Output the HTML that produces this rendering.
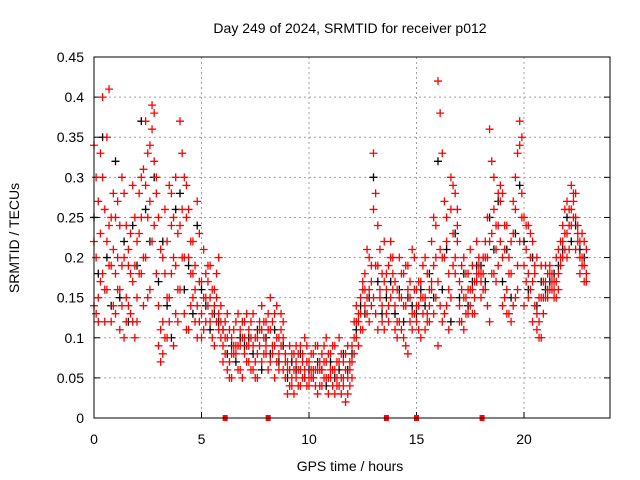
<!DOCTYPE html>
<html><head><meta charset="utf-8"><style>
body{margin:0;background:#fff}
svg{display:block;font-family:"Liberation Sans",sans-serif}
</style></head><body>
<svg id="chart" width="640" height="480" viewBox="0 0 640 480" xmlns="http://www.w3.org/2000/svg">
<rect width="640" height="480" fill="#fff"/>
<g id="grid"></g>
<g id="marks"></g>
<rect x="94" y="57" width="516" height="361" fill="none" stroke="#000" stroke-width="1"/>
<g id="ticks" font-size="14"></g>
<text x="350" y="33" font-size="14" text-anchor="middle">Day 249 of 2024, SRMTID for receiver p012</text>
<text x="350" y="471" font-size="14" text-anchor="middle">GPS time / hours</text>
<text transform="translate(19,238) rotate(-90)" font-size="14" text-anchor="middle">SRMTID / TECUs</text>
</svg>
<script>
const xTicks=[0,5,10,15,20];
const xTickLabels=["0","5","10","15","20"];
const yTicks=[0,0.05,0.1,0.15,0.2,0.25,0.3,0.35,0.4,0.45];
const yTickLabels=["0","0.05","0.1","0.15","0.2","0.25","0.3","0.35","0.4","0.45"];
const times=[0.0,0.2,0.4,0.6,0.8,1.0,1.2,1.4,1.6,1.8,2.0,2.2,2.4,2.6,2.8,3.0,3.2,3.4,3.6,3.8,4.0,4.2,4.4,4.6,4.8,5.0,5.2,5.4,5.6,5.8,6.0,6.2,6.4,6.6,6.8,7.0,7.2,7.4,7.6,7.8,8.0,8.2,8.4,8.6,8.8,9.0,9.2,9.4,9.6,9.8,10.0,10.2,10.4,10.6,10.8,11.0,11.2,11.4,11.6,11.8,12.0,12.2,12.4,12.6,12.8,13.0,13.2,13.4,13.6,13.8,14.0,14.2,14.4,14.6,14.8,15.0,15.2,15.4,15.6,15.8,16.0,16.2,16.4,16.6,16.8,17.0,17.2,17.4,17.6,17.8,18.0,18.2,18.4,18.6,18.8,19.0,19.2,19.4,19.6,19.8,20.0,20.2,20.4,20.6,20.8,21.0,21.2,21.4,21.6,21.8,22.0,22.2,22.4,22.6,22.8];
const redA=[.34,.15,.40,.22,.12,.18,.24,.10,.21,.29,.22,.30,.37,.34,.38,.09,.20,.15,.24,.30,.37,.30,.20,.15,.27,.17,.15,.19,.14,.20,.11,.10,.08,.12,.06,.12,.09,.06,.10,.14,.08,.11,.13,.08,.10,.06,.04,.07,.09,.05,.05,.08,.06,.04,.07,.06,.09,.04,.07,.05,.09,.12,.15,.18,.20,.33,.24,.18,.13,.20,.14,.20,.10,.16,.13,.16,.15,.20,.12,.25,.42,.33,.25,.30,.20,.14,.20,.18,.16,.22,.17,.20,.36,.30,.24,.28,.16,.22,.30,.37,.25,.18,.22,.13,.10,.17,.19,.16,.21,.24,.27,.29,.25,.22,.19];
const redB=[.22,.12,.30,.16,.25,.13,.16,.20,.14,.17,.15,.25,.20,.27,.24,.14,.08,.22,.18,.13,.24,.13,.26,.18,.10,.13,.18,.12,.16,.11,.09,.13,.05,.09,.11,.08,.11,.09,.05,.07,.12,.07,.05,.10,.06,.03,.08,.05,.06,.10,.07,.05,.09,.06,.05,.08,.03,.07,.05,.09,.07,.10,.13,.14,.16,.15,.19,.12,.16,.22,.11,.15,.18,.08,.21,.14,.17,.11,.16,.19,.17,.12,.22,.15,.28,.12,.15,.13,.19,.17,.18,.16,.22,.26,.19,.20,.13,.18,.15,.34,.19,.15,.12,.20,.15,.15,.18,.17,.16,.20,.23,.26,.21,.18,.17];
const redC=[.14,.27,.18,.35,.19,.25,.11,.28,.19,.12,.12,.18,.29,.16,.32,.25,.12,.10,.28,.19,.16,.20,.11,.22,.14,.10,.12,.15,.09,.13,.07,.06,.10,.08,.09,.10,.07,.13,.08,.11,.09,.15,.09,.06,.12,.07,.05,.09,.04,.06,.04,.06,.03,.08,.10,.05,.06,.10,.04,.03,.05,.14,.11,.16,.12,.26,.11,.14,.18,.15,.17,.12,.14,.19,.11,.12,.10,.15,.14,.13,.09,.20,.14,.26,.18,.17,.11,.16,.13,.18,.15,.22,.12,.18,.28,.14,.24,.12,.26,.22,.14,.24,.17,.11,.19,.19,.16,.15,.18,.22,.20,.24,.28,.20,.22];
const black=[.25,.18,.35,.20,.14,.32,.15,.22,.12,.24,.19,.37,.26,.22,.30,.17,.22,.14,.10,.26,.28,.16,.19,.13,.24,.16,.14,.11,.13,.12,.11,.08,.09,.07,.10,.09,.10,.08,.11,.06,.10,.08,.11,.07,.09,.05,.07,.06,.08,.05,.06,.05,.07,.06,.04,.07,.05,.06,.08,.06,.08,.11,.14,.13,.15,.30,.17,.13,.15,.17,.13,.16,.12,.15,.14,.13,.16,.14,.18,.15,.32,.16,.21,.12,.23,.15,.18,.14,.17,.19,.19,.17,.25,.21,.27,.17,.21,.15,.23,.29,.22,.16,.20,.14,.17,.16,.17,.18,.19,.21,.25,.22,.24,.21,.20];
const times2=[0.1,0.3,0.5,0.7,0.9,1.1,1.3,1.5,1.7,1.9,2.1,2.3,2.5,2.7,2.9,3.1,3.3,3.5,3.7,3.9,4.1,4.3,4.5,4.7,4.9,5.1,5.3,5.5,5.7,5.9,6.1,6.3,6.5,6.7,6.9,7.1,7.3,7.5,7.7,7.9,8.1,8.3,8.5,8.7,8.9,9.1,9.3,9.5,9.7,9.9,10.1,10.3,10.5,10.7,10.9,11.1,11.3,11.5,11.7,11.9,12.1,12.3,12.5,12.7,12.9,13.1,13.3,13.5,13.7,13.9,14.1,14.3,14.5,14.7,14.9,15.1,15.3,15.5,15.7,15.9,16.1,16.3,16.5,16.7,16.9,17.1,17.3,17.5,17.7,17.9,18.1,18.3,18.5,18.7,18.9,19.1,19.3,19.5,19.7,19.9,20.1,20.3,20.5,20.7,20.9,21.1,21.3,21.5,21.7,21.9,22.1,22.3,22.5,22.7,22.9];
const redD=[.20,.33,.16,.41,.14,.27,.19,.15,.23,.10,.28,.20,.33,.39,.30,.07,.26,.12,.20,.16,.33,.25,.18,.12,.23,.21,.14,.16,.18,.12,.12,.07,.11,.06,.10,.09,.12,.07,.11,.08,.11,.08,.14,.09,.07,.04,.06,.08,.05,.07,.06,.04,.07,.09,.05,.04,.07,.05,.08,.06,.10,.13,.17,.15,.19,.28,.16,.22,.14,.18,.12,.18,.09,.15,.20,.17,.13,.18,.22,.15,.38,.27,.18,.29,.24,.16,.13,.21,.15,.19,.18,.25,.32,.21,.27,.24,.18,.27,.33,.35,.21,.16,.19,.12,.15,.18,.16,.20,.22,.26,.26,.28,.24,.20,.18];
const redE=[.13,.23,.26,.19,.28,.16,.30,.12,.18,.25,.18,.14,.25,.22,.28,.11,.18,.29,.09,.23,.20,.29,.14,.16,.12,.11,.17,.13,.15,.10,.08,.11,.09,.13,.05,.13,.06,.10,.09,.12,.06,.12,.10,.13,.05,.09,.03,.06,.08,.04,.08,.06,.04,.05,.08,.09,.05,.03,.06,.04,.08,.12,.11,.21,.14,.13,.21,.11,.19,.16,.16,.11,.14,.17,.13,.11,.15,.13,.17,.24,.14,.20,.11,.23,.26,.12,.18,.14,.17,.20,.16,.20,.18,.24,.22,.15,.20,.14,.19,.25,.17,.23,.14,.10,.13,.16,.17,.15,.19,.23,.21,.25,.23,.19,.21];
const redF=[.30,.17,.12,.24,.21,.20,.14,.24,.13,.19,.23,.31,.15,.36,.18,.21,.10,.15,.25,.12,.26,.11,.22,.19,.17,.15,.19,.10,.12,.14,.10,.05,.08,.09,.12,.07,.10,.05,.12,.10,.13,.09,.07,.11,.08,.06,.08,.04,.07,.09,.05,.09,.06,.07,.03,.06,.04,.08,.02,.07,.12,.09,.16,.13,.17,.19,.15,.17,.12,.20,.10,.15,.19,.12,.16,.14,.19,.12,.16,.20,.21,.13,.16,.19,.22,.19,.15,.16,.13,.18,.20,.14,.23,.17,.29,.21,.13,.23,.16,.28,.24,.20,.18,.15,.17,.15,.18,.17,.20,.21,.24,.27,.22,.23,.17];
const zeroTimes=[6.1,8.1,13.6,15.0,18.05];

const X0=94,X1=610,Y0=418,Y1=57;
function xs(t){return X0+(t-0)/(24-0)*(X1-X0);}
function ys(v){return Y0-(v-0)/(0.45-0)*(Y0-Y1);}
const NS="http://www.w3.org/2000/svg";
const grid=document.getElementById('grid'),ticks=document.getElementById('ticks'),marks=document.getElementById('marks');
function mk(tag,attrs,parent){const e=document.createElementNS(NS,tag);for(const k in attrs)e.setAttribute(k,attrs[k]);parent.appendChild(e);return e;}
yTicks.forEach((v,i)=>{
  const y=ys(v);
  if(i>0&&i<yTicks.length-1){const g=mk('line',{x1:X0,x2:X1,y1:y,y2:y,stroke:'#a0a0a0','stroke-dasharray':'2,3'},grid);
  
  }
  const tk=mk('line',{x1:X0,x2:X0+6,y1:y,y2:y,stroke:'#000'},grid);
  
  
  const tk2=mk('line',{x1:X1,x2:X1-6,y1:y,y2:y,stroke:'#000'},grid);
  
  
  const t=mk('text',{x:84,y:y+5,'text-anchor':'end'},ticks);t.textContent=yTickLabels[i];
  
  
});
xTicks.forEach((v,i)=>{
  const x=xs(v);
  if(i>0){const g=mk('line',{x1:x,x2:x,y1:Y1,y2:Y0,stroke:'#a0a0a0','stroke-dasharray':'2,3'},grid);
  
  }
  const tk=mk('line',{x1:x,x2:x,y1:Y0,y2:Y0-6,stroke:'#000'},grid);
  
  
  const t=mk('text',{x:x,y:444,'text-anchor':'middle'},ticks);t.textContent=xTickLabels[i];
  
  
});
function plus(t,v,color,name){
  const x=xs(t),y=ys(v);
  const p=mk('path',{d:`M${x-4},${y}H${x+4}M${x},${y-4}V${y+4}`,stroke:color,'stroke-width':1.3,fill:'none'},marks);
  
  
}
times.forEach((t,i)=>{plus(t,black[i],'#000','point-black');});
[redA,redB,redC].forEach(arr=>times.forEach((t,i)=>{plus(t,arr[i],'#ff0000','point-red');}));
[redD,redE,redF].forEach(arr=>times2.forEach((t,i)=>{plus(t,arr[i],'#ff0000','point-red');}));
zeroTimes.forEach(t=>{
  const r=mk('rect',{x:xs(t)-2.5,y:Y0-3,width:5,height:6,fill:'#ff0000'},marks);
  
  
});
</script>
</body></html>
